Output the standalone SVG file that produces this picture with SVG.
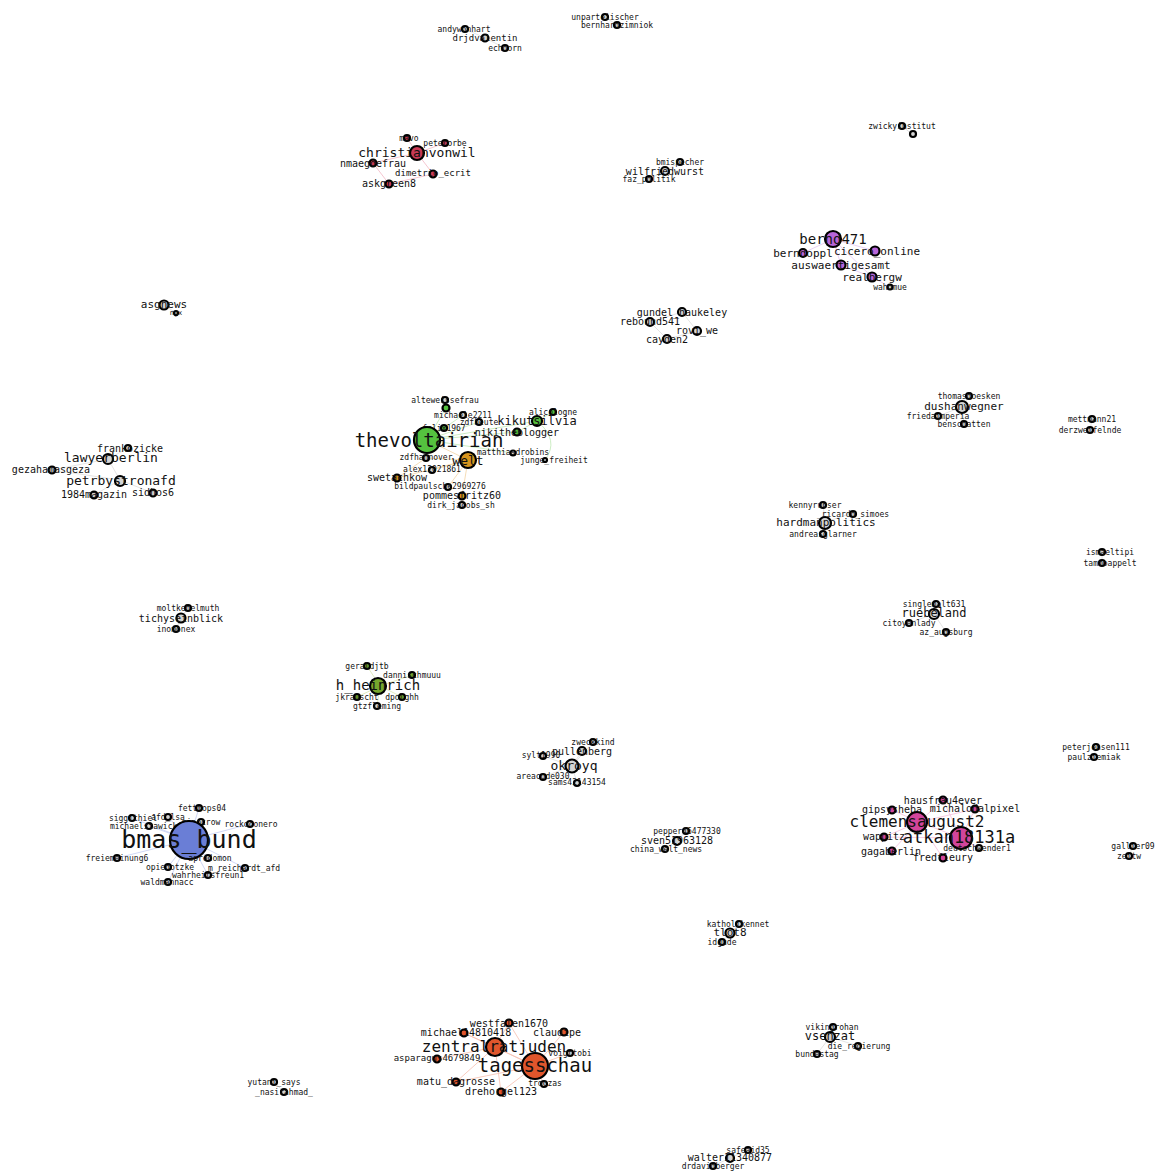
<svg xmlns="http://www.w3.org/2000/svg" width="1157" height="1171" viewBox="0 0 1157 1171">
<style>
.n{stroke:#000;stroke-width:2.2}
.gy{fill:#d4d4d4}.rd{fill:#c93a55}.pu{fill:#b865d8}.gr{fill:#55c23f}.or{fill:#d6941d}.ol{fill:#76a62e}.bl{fill:#6a7ed6}.pk{fill:#d2459c}.ta{fill:#e0562c}
text{font-family:"DejaVu Sans Mono","Liberation Mono",monospace;text-anchor:middle;dominant-baseline:central;fill:#111}
.f7{font-size:7px}.f8{font-size:8px}.f9{font-size:9px}.f10{font-size:10px}.f11{font-size:11px}.f12{font-size:12px}.f13{font-size:13px}.f14{font-size:14px}.f16{font-size:16px}.f17{font-size:17px}.f19{font-size:19px}.f25{font-size:25px}
.e{fill:none;stroke-width:0.8}
.ep{stroke:#f2b8c4}.eu{stroke:#e2c4f2}.eg{stroke:#bfe8b4}.eo{stroke:#f2d4a4}.ey{stroke:#dddddd}.eb{stroke:#c4cdf2}.ek{stroke:#f4bcdc}.et{stroke:#f6bfae}.el{stroke:#d8e6b0}
</style>
<rect width="1157" height="1171" fill="#fff"/>
<g id="edges">
<path class="e ep" d="M417 153L373 163M417 153L433 174M373 163L389 184M433 174L389 184M417 153L407 138M417 153L445 143"/>
<path class="e ey" d="M665 171L680 162M665 171L649 179M485 38L465 29M485 38L505 48M605 17L617 25M902 126L913 135M164 305L176 313"/>
<path class="e eu" d="M833 239L803 253M833 239L875 251M833 239L841 265M841 265L872 277M872 277L890 287M833 239L872 277"/>
<path class="e ey" d="M682 312L650 322M682 312L697 331M650 322L667 339M697 331L667 339"/>
<path class="e eg" d="M427 440L446 408M446 408L445 400M427 440L463 415M427 440L444 428M427 440L479 422M427 440L537 421M537 421L553 412M537 421L517 432M427 440L517 432M427 440L426 458M537 421Q560 440 545 460M427 440L513 453"/>
<path class="e eo" d="M468 460L397 478M468 460L432 470M468 460L448 487M468 460L462 496M468 460L426 458M427 440L468 460M397 478L426 458M462 496L462 505"/>
<path class="e ey" d="M108 459L128 448M108 459L120 480M120 480L52 470M120 480L94 495M120 480L153 493M108 459L52 470"/>
<path class="e ey" d="M962 407L969 396M962 407L938 416M962 407L964 424M1092 419L1090 430M825 522L823 504M825 522L853 513M825 522L823 534M1102 551L1102 562"/>
<path class="e ey" d="M181 618L188 608M181 618L176 629M934 614L936 604M934 614L909 623M934 614L946 632M1096 747L1094 757"/>
<path class="e el" d="M380 686L367 666M380 686L412 675M380 686L357 697M380 686L402 697M380 686L377 706"/>
<path class="e ey" d="M572 766L593 742M572 766L582 751M572 766L543 756M572 766L543 777M572 766L577 783"/>
<path class="e eb" d="M189 840L199 808M189 840L132 818M189 840L168 817M189 840L149 826M189 840L201 822M189 840L250 824M189 840L117 858M189 840L208 858M189 840L168 867M189 840L245 868M189 840L208 875M189 840L168 882"/>
<path class="e ek" d="M919 822L943 800M919 822L892 810M919 822L975 809M919 822L961 838M919 822L884 837M919 822L892 851M919 822L943 858M961 838L975 809M961 838L979 848M961 838L943 858M961 838L884 837M961 838L943 800"/>
<path class="e ey" d="M677 841L686 831M677 841L665 849M730 933L739 924M730 933L722 942M1133 846L1129 856"/>
<path class="e et" d="M535 1066L495 1047M495 1047L509 1023M495 1047L464 1033M495 1047L437 1059M535 1066L509 1023M535 1066L564 1032M535 1066L570 1053M535 1066L456 1082M535 1066L544 1084M535 1066L501 1092M495 1047L501 1092M456 1082L495 1047M464 1033L535 1066"/>
<path class="e ey" d="M274 1082L284 1092M830 1037L833 1027M830 1037L858 1046M830 1037L817 1054M730 1158L748 1150M730 1158L713 1166"/>
</g>
<g id="n_andywonhart"><circle class="n gy" cx="465" cy="29" r="3"/><text class="f8" x="464" y="29">andywonhart</text></g>
<g id="n_drjdvalentin"><circle class="n gy" cx="485" cy="38" r="3.5"/><text class="f9" x="485" y="38">drjdvalentin</text></g>
<g id="n_echoorn"><circle class="n gy" cx="505" cy="48" r="3"/><text class="f8" x="505" y="48">echoorn</text></g>
<g id="n_unparteiischer"><circle class="n gy" cx="605" cy="17" r="3"/><text class="f8" x="605" y="17">unparteiischer</text></g>
<g id="n_bernhardzimniok"><circle class="n gy" cx="617" cy="25" r="3"/><text class="f8" x="617" y="25">bernhardzimniok</text></g>
<g id="n_mavo"><circle class="n rd" cx="407" cy="138" r="3"/><text class="f8" x="409" y="138">mavo</text></g>
<g id="n_peterorbe"><circle class="n rd" cx="445" cy="143" r="3"/><text class="f8" x="445" y="143">peterorbe</text></g>
<g id="n_christianvonwil"><circle class="n rd" cx="417" cy="153" r="7"/><text class="f13" x="417" y="152">christianvonwil</text></g>
<g id="n_nmaegdefrau"><circle class="n rd" cx="373" cy="163" r="3.5"/><text class="f10" x="373" y="163">nmaegdefrau</text></g>
<g id="n_dimetrio_ecrit"><circle class="n rd" cx="433" cy="174" r="3.5"/><text class="f9" x="433" y="173">dimetrio_ecrit</text></g>
<g id="n_askgreen8"><circle class="n rd" cx="389" cy="184" r="3.5"/><text class="f10" x="389" y="183">askgreen8</text></g>
<g id="n_bmispecher"><circle class="n gy" cx="680" cy="162" r="3"/><text class="f8" x="680" y="162">bmispecher</text></g>
<g id="n_wilfriedwurst"><circle class="n gy" cx="665" cy="171" r="4"/><text class="f10" x="665" y="171">wilfriedwurst</text></g>
<g id="n_faz_politik"><circle class="n gy" cx="649" cy="179" r="3"/><text class="f8" x="649" y="179">faz_politik</text></g>
<g id="n_zwickyinstitut"><circle class="n gy" cx="902" cy="126" r="3"/><text class="f8" x="902" y="126">zwickyinstitut</text></g>
<g id="n_zwicky2"><circle class="n gy" cx="913" cy="134" r="3"/></g>
<g id="n_bernd471"><circle class="n pu" cx="833" cy="239" r="8"/><text class="f14" x="833" y="239">bernd471</text></g>
<g id="n_berndoppl"><circle class="n pu" cx="803" cy="253" r="4"/><text class="f11" x="803" y="253">berndoppl</text></g>
<g id="n_cicero_online"><circle class="n pu" cx="875" cy="251" r="4.5"/><text class="f11" x="877" y="251">cicero_online</text></g>
<g id="n_auswaertigesamt"><circle class="n pu" cx="841" cy="265" r="4.5"/><text class="f11" x="841" y="265">auswaertigesamt</text></g>
<g id="n_realbergw"><circle class="n pu" cx="872" cy="277" r="4.5"/><text class="f11" x="872" y="277">realbergw</text></g>
<g id="n_wahomue"><circle class="n gy" cx="890" cy="287" r="2.5"/><text class="f8" x="890" y="287">wahomue</text></g>
<g id="n_asgnews"><circle class="n gy" cx="164" cy="305" r="4.5"/><text class="f11" x="164" y="304">asgnews</text></g>
<g id="n_ngx"><circle class="n gy" cx="176" cy="313" r="2"/><text class="f7" x="176" y="313">ngx</text></g>
<g id="n_gundel_haukeley"><circle class="n gy" cx="682" cy="312" r="4"/><text class="f10" x="682" y="312">gundel_haukeley</text></g>
<g id="n_rebound541"><circle class="n gy" cx="650" cy="322" r="4"/><text class="f10" x="650" y="321">rebound541</text></g>
<g id="n_rovi_we"><circle class="n gy" cx="697" cy="331" r="4"/><text class="f10" x="697" y="330">rovi_we</text></g>
<g id="n_cayden2"><circle class="n gy" cx="667" cy="339" r="4"/><text class="f10" x="667" y="339">cayden2</text></g>
<g id="n_alteweissefrau"><circle class="n gy" cx="445" cy="400" r="3"/><text class="f8" x="445" y="400">alteweissefrau</text></g>
<g id="n_green1"><circle class="n gr" cx="446" cy="408" r="3.5"/></g>
<g id="n_michaele2211"><circle class="n gy" cx="463" cy="415" r="3"/><text class="f8" x="463" y="415">michaele2211</text></g>
<g id="n_zdfheute"><circle class="n gy" cx="479" cy="422" r="3"/><text class="f8" x="479" y="422">zdfheute</text></g>
<g id="n_alicologne"><circle class="n gr" cx="553" cy="412" r="3"/><text class="f8" x="553" y="412">alicologne</text></g>
<g id="n_kikutsilvia"><circle class="n gr" cx="537" cy="421" r="5"/><text class="f12" x="537" y="421">kikutsilvia</text></g>
<g id="n_felix1967"><circle class="n gr" cx="444" cy="428" r="3"/><text class="f8" x="444" y="428">felix1967</text></g>
<g id="n_nikitheblogger"><circle class="n gr" cx="517" cy="432" r="3.5"/><text class="f10" x="517" y="432">nikitheblogger</text></g>
<g id="n_thevoltairian"><circle class="n gr" cx="427" cy="440" r="13"/><text class="f19" x="429" y="440">thevoltairian</text></g>
<g id="n_matthiasdrobins"><circle class="n gy" cx="513" cy="453" r="2.5"/><text class="f8" x="513" y="452">matthiasdrobins</text></g>
<g id="n_junge_freiheit"><circle class="n gy" cx="545" cy="460" r="2"/><text class="f8" x="554" y="460">junge_freiheit</text></g>
<g id="n_zdfhannover"><circle class="n gy" cx="426" cy="458" r="3"/><text class="f8" x="426" y="457">zdfhannover</text></g>
<g id="n_welt"><circle class="n or" cx="468" cy="460" r="8"/><text class="f13" x="468" y="460">welt</text></g>
<g id="n_alex12021861"><circle class="n gy" cx="432" cy="470" r="3"/><text class="f8" x="432" y="469">alex12021861</text></g>
<g id="n_swetachkow"><circle class="n or" cx="397" cy="478" r="3.5"/><text class="f10" x="397" y="477">swetachkow</text></g>
<g id="n_bildpaulsche2969276"><circle class="n gy" cx="448" cy="487" r="3"/><text class="f8" x="440" y="486">bildpaulsche2969276</text></g>
<g id="n_pommesfritz60"><circle class="n or" cx="462" cy="496" r="3.5"/><text class="f10" x="462" y="495">pommesfritz60</text></g>
<g id="n_dirk_jacobs_sh"><circle class="n gy" cx="462" cy="505" r="3"/><text class="f8" x="461" y="505">dirk_jacobs_sh</text></g>
<g id="n_frankzicke"><circle class="n gy" cx="128" cy="448" r="3"/><text class="f10" x="130" y="448">frankozicke</text></g>
<g id="n_lawyerberlin"><circle class="n gy" cx="108" cy="459" r="5"/><text class="f13" x="111" y="457">lawyerberlin</text></g>
<g id="n_gezahamasgeza"><circle class="n gy" cx="52" cy="470" r="3.5"/><text class="f10" x="51" y="469">gezahamasgeza</text></g>
<g id="n_petrbystronafd"><circle class="n gy" cx="120" cy="481" r="5"/><text class="f13" x="121" y="480">petrbystronafd</text></g>
<g id="n_1984magazin"><circle class="n gy" cx="94" cy="495" r="3.5"/><text class="f10" x="94" y="494">1984magazin</text></g>
<g id="n_sidhos6"><circle class="n gy" cx="153" cy="493" r="3.5"/><text class="f10" x="153" y="492">sidhos6</text></g>
<g id="n_thomasdoesken"><circle class="n gy" cx="969" cy="396" r="3"/><text class="f8" x="969" y="396">thomasdoesken</text></g>
<g id="n_dushanwegner"><circle class="n gy" cx="962" cy="407" r="6"/><text class="f11" x="964" y="406">dushanwegner</text></g>
<g id="n_friedaimperia"><circle class="n gy" cx="938" cy="416" r="3"/><text class="f8" x="938" y="416">friedaimperia</text></g>
<g id="n_benschatten"><circle class="n gy" cx="964" cy="424" r="3"/><text class="f8" x="964" y="424">benschatten</text></g>
<g id="n_mettmann21"><circle class="n gy" cx="1092" cy="419" r="3"/><text class="f8" x="1092" y="419">mettmann21</text></g>
<g id="n_derzweifelnde"><circle class="n gy" cx="1090" cy="430" r="3"/><text class="f8" x="1090" y="430">derzweifelnde</text></g>
<g id="n_kennyrubser"><circle class="n gy" cx="823" cy="505" r="3"/><text class="f8" x="815" y="505">kennyrubser</text></g>
<g id="n_ricardo_simoes"><circle class="n gy" cx="853" cy="514" r="3"/><text class="f8" x="853" y="514">_ricardo_simoes</text></g>
<g id="n_hardmanpolitics"><circle class="n gy" cx="825" cy="523" r="6"/><text class="f11" x="826" y="522">hardmanpolitics</text></g>
<g id="n_andreasglarner"><circle class="n gy" cx="823" cy="534" r="3"/><text class="f8" x="823" y="534">andreasglarner</text></g>
<g id="n_ismaeltipi"><circle class="n gy" cx="1102" cy="552" r="3"/><text class="f8" x="1110" y="552">ismaeltipi</text></g>
<g id="n_tammoappelt"><circle class="n gy" cx="1102" cy="563" r="3"/><text class="f8" x="1110" y="563">tammoappelt</text></g>
<g id="n_moltkehelmuth"><circle class="n gy" cx="188" cy="608" r="3"/><text class="f8" x="188" y="608">moltkehelmuth</text></g>
<g id="n_tichyseinblick"><circle class="n gy" cx="181" cy="618" r="4.5"/><text class="f10" x="181" y="618">tichyseinblick</text></g>
<g id="n_inomonex"><circle class="n gy" cx="176" cy="629" r="3"/><text class="f8" x="176" y="629">inomonex</text></g>
<g id="n_geraldjtb"><circle class="n ol" cx="367" cy="666" r="3"/><text class="f8" x="367" y="666">geraldjtb</text></g>
<g id="n_dannischmuuu"><circle class="n ol" cx="412" cy="675" r="3"/><text class="f8" x="412" y="675">dannischmuuu</text></g>
<g id="n_h_heinrich"><circle class="n ol" cx="378" cy="686" r="8"/><text class="f14" x="378" y="685">h_heinrich</text></g>
<g id="n_jkrauscht"><circle class="n ol" cx="357" cy="697" r="3"/><text class="f8" x="357" y="697">jkrauscht</text></g>
<g id="n_dpolghh"><circle class="n ol" cx="402" cy="697" r="3"/><text class="f8" x="402" y="697">dpolghh</text></g>
<g id="n_gtzfleming"><circle class="n gy" cx="377" cy="706" r="3"/><text class="f8" x="377" y="706">gtzfleming</text></g>
<g id="n_zweckkind"><circle class="n gy" cx="593" cy="742" r="3"/><text class="f8" x="593" y="742">zweckkind</text></g>
<g id="n_pullenberg"><circle class="n gy" cx="582" cy="751" r="4"/><text class="f10" x="582" y="751">pullenberg</text></g>
<g id="n_sylt1990"><circle class="n gy" cx="543" cy="756" r="3"/><text class="f8" x="541" y="755">sylt1990</text></g>
<g id="n_okroyq"><circle class="n gy" cx="572" cy="766" r="6.5"/><text class="f13" x="574" y="765">okroyq</text></g>
<g id="n_areacode030"><circle class="n gy" cx="543" cy="777" r="3"/><text class="f8" x="543" y="776">areacode030</text></g>
<g id="n_sams42143154"><circle class="n gy" cx="577" cy="783" r="3"/><text class="f8" x="577" y="782">sams42143154</text></g>
<g id="n_fettmops04"><circle class="n gy" cx="199" cy="808" r="3"/><text class="f8" x="202" y="808">fettmops04</text></g>
<g id="n_siggithiel"><circle class="n gy" cx="132" cy="818" r="3"/><text class="f8" x="133" y="818">siggithiel</text></g>
<g id="n_afd_lsa"><circle class="n gy" cx="168" cy="817" r="3"/><text class="f8" x="168" y="817">afd_lsa</text></g>
<g id="n_michaelstawicki"><circle class="n gy" cx="149" cy="826" r="3"/><text class="f8" x="146" y="826">michaelstawicki</text></g>
<g id="n_ninocrow"><circle class="n gy" cx="201" cy="822" r="3"/><text class="f8" x="201" y="822">ninocrow</text></g>
<g id="n_rockoconero"><circle class="n gy" cx="250" cy="824" r="3"/><text class="f8" x="251" y="824">rockoconero</text></g>
<g id="n_bmas_bund"><circle class="n bl" cx="189" cy="840" r="19"/><text class="f25" x="189" y="839">bmas_bund</text></g>
<g id="n_freiemeinung6"><circle class="n gy" cx="117" cy="858" r="3"/><text class="f8" x="117" y="858">freiemeinung6</text></g>
<g id="n_apredomon"><circle class="n gy" cx="208" cy="858" r="3"/><text class="f8" x="210" y="858">apredomon</text></g>
<g id="n_opiedotzke"><circle class="n gy" cx="168" cy="867" r="3"/><text class="f8" x="170" y="867">opiedotzke</text></g>
<g id="n_m_reichardt_afd"><circle class="n gy" cx="245" cy="868" r="3"/><text class="f8" x="244" y="868">m_reichardt_afd</text></g>
<g id="n_wahrheitsfreun1"><circle class="n gy" cx="208" cy="875" r="3"/><text class="f8" x="208" y="875">wahrheitsfreun1</text></g>
<g id="n_waldmannacc"><circle class="n gy" cx="168" cy="882" r="3"/><text class="f8" x="167" y="882">waldmannacc</text></g>
<g id="n_singlemalt631"><circle class="n gy" cx="936" cy="604" r="3"/><text class="f8" x="934" y="604">singlemalt631</text></g>
<g id="n_ruebeland"><circle class="n gy" cx="934" cy="614" r="5"/><text class="f12" x="934" y="613">ruebeland</text></g>
<g id="n_citoyenlady"><circle class="n gy" cx="909" cy="623" r="3"/><text class="f8" x="909" y="623">citoyenlady</text></g>
<g id="n_az_augsburg"><circle class="n gy" cx="946" cy="632" r="3"/><text class="f8" x="946" y="632">az_augsburg</text></g>
<g id="n_peterjensen111"><circle class="n gy" cx="1096" cy="747" r="3"/><text class="f8" x="1096" y="747">peterjensen111</text></g>
<g id="n_paulziemiak"><circle class="n gy" cx="1094" cy="757" r="3"/><text class="f8" x="1094" y="757">paulziemiak</text></g>
<g id="n_hausfrau4ever"><circle class="n pk" cx="943" cy="800" r="3.5"/><text class="f10" x="943" y="800">hausfrau4ever</text></g>
<g id="n_gipsysheba"><circle class="n pk" cx="892" cy="810" r="3.5"/><text class="f10" x="892" y="809">gipsysheba</text></g>
<g id="n_michalodalpixel"><circle class="n pk" cx="975" cy="809" r="3.5"/><text class="f10" x="975" y="808">michalodalpixel</text></g>
<g id="n_clemensaugust2"><circle class="n pk" cx="917" cy="822" r="10"/><text class="f16" x="917" y="821">clemensaugust2</text></g>
<g id="n_wappitz"><circle class="n pk" cx="884" cy="837" r="3.5"/><text class="f10" x="884" y="836">wappitz</text></g>
<g id="n_atkan18131a"><circle class="n pk" cx="961" cy="838" r="11"/><text class="f17" x="959" y="837">atkan18131a</text></g>
<g id="n_deutschwender1"><circle class="n gy" cx="979" cy="848" r="3"/><text class="f8" x="977" y="848">deutschwender1</text></g>
<g id="n_gagaberlin"><circle class="n pk" cx="892" cy="851" r="3.5"/><text class="f10" x="891" y="851">gagaberlin</text></g>
<g id="n_fredfleury"><circle class="n pk" cx="943" cy="858" r="3.5"/><text class="f10" x="943" y="857">fredfleury</text></g>
<g id="n_gallier09"><circle class="n gy" cx="1133" cy="846" r="3"/><text class="f8" x="1133" y="846">gallier09</text></g>
<g id="n_zeitw"><circle class="n gy" cx="1129" cy="856" r="3"/><text class="f8" x="1129" y="856">zeitw</text></g>
<g id="n_pepper46477330"><circle class="n gy" cx="686" cy="831" r="3"/><text class="f8" x="687" y="831">pepper46477330</text></g>
<g id="n_sven51963128"><circle class="n gy" cx="677" cy="841" r="4"/><text class="f10" x="677" y="840">sven51963128</text></g>
<g id="n_china_welt_news"><circle class="n gy" cx="665" cy="849" r="3"/><text class="f8" x="666" y="849">china_welt_news</text></g>
<g id="n_katholikennet"><circle class="n gy" cx="739" cy="924" r="3"/><text class="f8" x="738" y="924">katholikennet</text></g>
<g id="n_tlot8"><circle class="n gy" cx="730" cy="933" r="4.5"/><text class="f11" x="730" y="932">tlot8</text></g>
<g id="n_idgude"><circle class="n gy" cx="722" cy="942" r="3"/><text class="f8" x="722" y="942">idgude</text></g>
<g id="n_westfalen1670"><circle class="n ta" cx="509" cy="1023" r="3.5"/><text class="f10" x="509" y="1023">westfalen1670</text></g>
<g id="n_michael14810418"><circle class="n ta" cx="464" cy="1033" r="3.5"/><text class="f10" x="466" y="1032">michael14810418</text></g>
<g id="n_claudipe"><circle class="n ta" cx="564" cy="1032" r="3.5"/><text class="f10" x="557" y="1032">claudipe</text></g>
<g id="n_zentralratjuden"><circle class="n ta" cx="495" cy="1047" r="9"/><text class="f16" x="494" y="1046">zentralratjuden</text></g>
<g id="n_voigttobi"><circle class="n gy" cx="570" cy="1053" r="3"/><text class="f8" x="570" y="1053">voigttobi</text></g>
<g id="n_asparagus4679849"><circle class="n ta" cx="437" cy="1059" r="3.5"/><text class="f9" x="437" y="1058">asparagus4679849</text></g>
<g id="n_tagesschau"><circle class="n ta" cx="535" cy="1066" r="13"/><text class="f19" x="535" y="1065">tagesschau</text></g>
<g id="n_matu_dagrosse"><circle class="n ta" cx="456" cy="1082" r="3.5"/><text class="f10" x="456" y="1081">matu_dagrosse</text></g>
<g id="n_troczas"><circle class="n gy" cx="544" cy="1084" r="3"/><text class="f8" x="545" y="1083">troczas</text></g>
<g id="n_drehorgel123"><circle class="n ta" cx="501" cy="1092" r="3.5"/><text class="f10" x="501" y="1091">drehorgel123</text></g>
<g id="n_yutani_says"><circle class="n gy" cx="274" cy="1082" r="3"/><text class="f8" x="274" y="1082">yutani_says</text></g>
<g id="n_nasirahmad"><circle class="n gy" cx="284" cy="1092" r="3"/><text class="f8" x="284" y="1092">_nasirahmad_</text></g>
<g id="n_vikingrohan"><circle class="n gy" cx="833" cy="1027" r="3"/><text class="f8" x="832" y="1027">vikingrohan</text></g>
<g id="n_vsenzat"><circle class="n gy" cx="830" cy="1037" r="5"/><text class="f12" x="830" y="1036">vsenzat</text></g>
<g id="n_die_regierung"><circle class="n gy" cx="858" cy="1046" r="3"/><text class="f8" x="859" y="1046">die_regierung</text></g>
<g id="n_bundestag"><circle class="n gy" cx="817" cy="1054" r="3"/><text class="f8" x="817" y="1054">bundestag</text></g>
<g id="n_safeaid35"><circle class="n gy" cx="748" cy="1150" r="3"/><text class="f8" x="748" y="1150">safeaid35</text></g>
<g id="n_walter11340877"><circle class="n gy" cx="730" cy="1158" r="4"/><text class="f10" x="730" y="1157">walter11340877</text></g>
<g id="n_drdavidberger"><circle class="n gy" cx="713" cy="1166" r="3"/><text class="f8" x="713" y="1166">drdavidberger</text></g>
</svg>
